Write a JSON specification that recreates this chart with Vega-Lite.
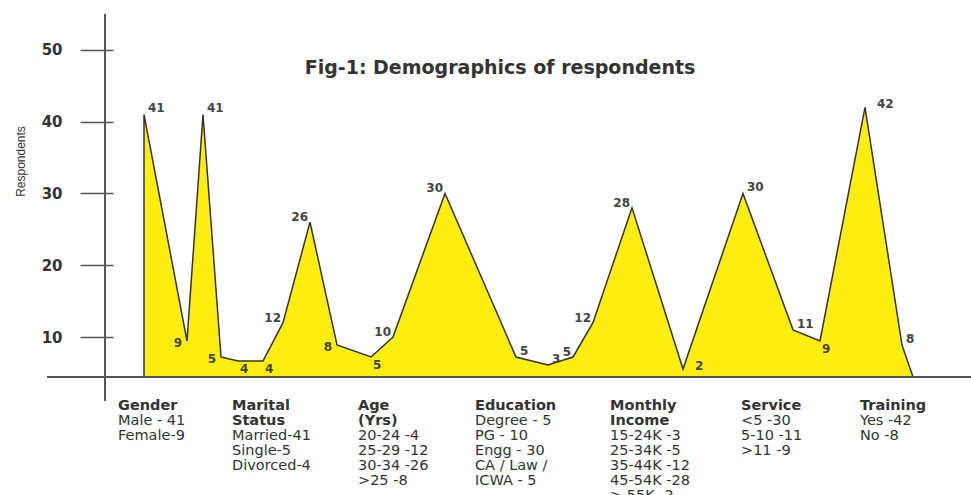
{
  "$schema": "https://vega.github.io/schema/vega-lite/v6.json",
  "autosize": {"type": "none"},
  "padding": {"left": 105, "top": 14, "right": 0, "bottom": 118},
  "width": 866,
  "height": 363,
  "background": "white",
  "config": {"view": {"stroke": null}},
  "title": {
    "text": "Fig-1: Demographics of respondents",
    "font": "DejaVu Sans",
    "fontSize": 19,
    "fontWeight": "bold",
    "color": "#333333",
    "anchor": "middle",
    "frame": "group",
    "offset": 0,
    "baseline": "middle",
    "dx": -38,
    "dy": 74
  },
  "datasets": {
    "points": [
      {"i": 1, "group": "Gender", "category": "Male", "value": 41, "pos": 3.9},
      {"i": 2, "group": "Gender", "category": "Female", "value": 9, "pos": 8.2},
      {"i": 3, "group": "Marital Status", "category": "Married", "value": 41, "pos": 9.8},
      {"i": 4, "group": "Marital Status", "category": "Single", "value": 5, "pos": 11.6},
      {"i": 5, "group": "Marital Status", "category": "Divorced", "value": 4, "pos": 13.3},
      {"i": 6, "group": "Age (Yrs)", "category": "20-24", "value": 4, "pos": 15.8},
      {"i": 7, "group": "Age (Yrs)", "category": "25-29", "value": 12, "pos": 17.8},
      {"i": 8, "group": "Age (Yrs)", "category": "30-34", "value": 26, "pos": 20.5},
      {"i": 9, "group": "Age (Yrs)", "category": ">25", "value": 8, "pos": 23.2},
      {"i": 10, "group": "Education", "category": "Degree", "value": 5, "pos": 26.6},
      {"i": 11, "group": "Education", "category": "PG", "value": 10, "pos": 28.8},
      {"i": 12, "group": "Education", "category": "Engg", "value": 30, "pos": 34.0},
      {"i": 13, "group": "Education", "category": "CA / Law / ICWA", "value": 5, "pos": 41.1},
      {"i": 14, "group": "Monthly Income", "category": "15-24K", "value": 3, "pos": 44.3},
      {"i": 15, "group": "Monthly Income", "category": "25-34K", "value": 5, "pos": 46.8},
      {"i": 16, "group": "Monthly Income", "category": "35-44K", "value": 12, "pos": 48.8},
      {"i": 17, "group": "Monthly Income", "category": "45-54K", "value": 28, "pos": 52.7},
      {"i": 18, "group": "Monthly Income", "category": "> 55K", "value": 2, "pos": 57.8},
      {"i": 19, "group": "Service", "category": "<5", "value": 30, "pos": 63.8},
      {"i": 20, "group": "Service", "category": "5-10", "value": 11, "pos": 68.8},
      {"i": 21, "group": "Service", "category": ">11", "value": 9, "pos": 71.5},
      {"i": 22, "group": "Training", "category": "Yes", "value": 42, "pos": 76.0},
      {"i": 23, "group": "Training", "category": "No", "value": 8, "pos": 79.7},
      {"i": 24, "group": "", "category": "", "value": 0, "pos": 80.8}
    ],
    "groups": [
      {"header": "Gender", "details": "Male - 41\nFemale-9", "lines": 1, "pos": 1.3},
      {"header": "Marital\nStatus", "details": "Married-41\nSingle-5\nDivorced-4", "lines": 2, "pos": 12.7},
      {"header": "Age\n(Yrs)", "details": "20-24 -4\n25-29 -12\n30-34 -26\n>25 -8", "lines": 2, "pos": 25.3},
      {"header": "Education", "details": "Degree - 5\nPG - 10\nEngg - 30\nCA / Law /\nICWA  - 5", "lines": 1, "pos": 37.0},
      {"header": "Monthly\nIncome", "details": "15-24K  -3\n25-34K  -5\n35-44K -12\n45-54K -28\n> 55K -2", "lines": 2, "pos": 50.5},
      {"header": "Service", "details": "<5 -30\n5-10 -11\n>11 -9", "lines": 1, "pos": 63.6},
      {"header": "Training", "details": "Yes -42\nNo -8", "lines": 1, "pos": 75.5}
    ]
  },
  "layer": [
    {
      "data": {"name": "points"},
      "mark": {"type": "area", "fill": "#FFEE10", "stroke": "#333333", "strokeWidth": 1.5, "strokeJoin": "miter"},
      "encoding": {
        "x": {"field": "pos", "type": "quantitative", "scale": {"domain": [0, 86.6], "nice": false, "zero": false}, "axis": null},
        "y": {
          "field": "value",
          "type": "quantitative",
          "scale": {"domain": [0, 10, 55], "range": [363, 323, 0], "nice": false},
          "axis": {
            "title": "Respondents",
            "values": [10, 20, 30, 40, 50],
            "offset": -8,
            "domain": false,
            "grid": false,
            "tickSize": 33,
            "tickColor": "#555555",
            "tickWidth": 1.5,
            "labelPadding": 18,
            "labelFont": "DejaVu Sans",
            "labelFontWeight": "bold",
            "labelFontSize": 15,
            "labelColor": "#333333",
            "titleFont": "Liberation Sans",
            "titleFontWeight": "normal",
            "titleFontSize": 12,
            "titleColor": "#333333",
            "titleAngle": -90,
            "titleAlign": "center",
            "titleBaseline": "middle",
            "titleX": -93,
            "titleY": 147
          }
        }
      }
    },
    {
      "data": {"values": [{"axis": "y"}]},
      "mark": {"type": "rule", "stroke": "#555555", "strokeWidth": 2},
      "encoding": {
        "x": {"datum": 0, "type": "quantitative"},
        "y": {"datum": -6, "type": "quantitative"},
        "y2": {"datum": 55}
      }
    },
    {
      "data": {"values": [{"axis": "x"}]},
      "mark": {"type": "rule", "stroke": "#555555", "strokeWidth": 2},
      "encoding": {
        "x": {"datum": -5.8, "type": "quantitative"},
        "x2": {"datum": 86.6},
        "y": {"datum": 0, "type": "quantitative"}
      }
    },
    {
      "data": {"name": "points"},
      "transform": [{"filter": {"field": "i", "oneOf": [1, 3, 13, 14, 19, 20, 23]}}],
      "mark": {"type": "text", "align": "left", "baseline": "middle", "dx": 4, "dy": -6, "font": "DejaVu Sans", "fontWeight": "bold", "fontSize": 12, "fill": "#444444"},
      "encoding": {
        "x": {"field": "pos", "type": "quantitative"},
        "y": {"field": "value", "type": "quantitative"},
        "text": {"field": "value", "type": "quantitative"}
      }
    },
    {
      "data": {"name": "points"},
      "transform": [{"filter": {"field": "i", "oneOf": [18, 22]}}],
      "mark": {"type": "text", "align": "left", "baseline": "middle", "dx": 12, "dy": -3, "font": "DejaVu Sans", "fontWeight": "bold", "fontSize": 12, "fill": "#444444"},
      "encoding": {
        "x": {"field": "pos", "type": "quantitative"},
        "y": {"field": "value", "type": "quantitative"},
        "text": {"field": "value", "type": "quantitative"}
      }
    },
    {
      "data": {"name": "points"},
      "transform": [{"filter": {"field": "i", "oneOf": [7, 8, 11, 12, 15, 16, 17]}}],
      "mark": {"type": "text", "align": "right", "baseline": "middle", "dx": -2, "dy": -5, "font": "DejaVu Sans", "fontWeight": "bold", "fontSize": 12, "fill": "#444444"},
      "encoding": {
        "x": {"field": "pos", "type": "quantitative"},
        "y": {"field": "value", "type": "quantitative"},
        "text": {"field": "value", "type": "quantitative"}
      }
    },
    {
      "data": {"name": "points"},
      "transform": [{"filter": {"field": "i", "oneOf": [2, 4, 9]}}],
      "mark": {"type": "text", "align": "right", "baseline": "middle", "dx": -5, "dy": 2, "font": "DejaVu Sans", "fontWeight": "bold", "fontSize": 12, "fill": "#444444"},
      "encoding": {
        "x": {"field": "pos", "type": "quantitative"},
        "y": {"field": "value", "type": "quantitative"},
        "text": {"field": "value", "type": "quantitative"}
      }
    },
    {
      "data": {"name": "points"},
      "transform": [{"filter": {"field": "i", "oneOf": [5, 6, 10, 21]}}],
      "mark": {"type": "text", "align": "left", "baseline": "middle", "dx": 2, "dy": 8, "font": "DejaVu Sans", "fontWeight": "bold", "fontSize": 12, "fill": "#444444"},
      "encoding": {
        "x": {"field": "pos", "type": "quantitative"},
        "y": {"field": "value", "type": "quantitative"},
        "text": {"field": "value", "type": "quantitative"}
      }
    },
    {
      "data": {"name": "groups"},
      "mark": {"type": "text", "align": "left", "baseline": "top", "dy": 22, "lineBreak": "\n", "lineHeight": 15, "font": "DejaVu Sans", "fontWeight": "bold", "fontSize": 14.5, "fill": "#333333"},
      "encoding": {
        "x": {"field": "pos", "type": "quantitative"},
        "y": {"datum": 0, "type": "quantitative"},
        "text": {"field": "header", "type": "nominal"}
      }
    },
    {
      "data": {"name": "groups"},
      "transform": [{"filter": "datum.lines == 1"}],
      "mark": {"type": "text", "align": "left", "baseline": "top", "dy": 37, "lineBreak": "\n", "lineHeight": 15, "font": "DejaVu Sans", "fontSize": 14.5, "fill": "#333333"},
      "encoding": {
        "x": {"field": "pos", "type": "quantitative"},
        "y": {"datum": 0, "type": "quantitative"},
        "text": {"field": "details", "type": "nominal"}
      }
    },
    {
      "data": {"name": "groups"},
      "transform": [{"filter": "datum.lines == 2"}],
      "mark": {"type": "text", "align": "left", "baseline": "top", "dy": 52, "lineBreak": "\n", "lineHeight": 15, "font": "DejaVu Sans", "fontSize": 14.5, "fill": "#333333"},
      "encoding": {
        "x": {"field": "pos", "type": "quantitative"},
        "y": {"datum": 0, "type": "quantitative"},
        "text": {"field": "details", "type": "nominal"}
      }
    }
  ]
}
